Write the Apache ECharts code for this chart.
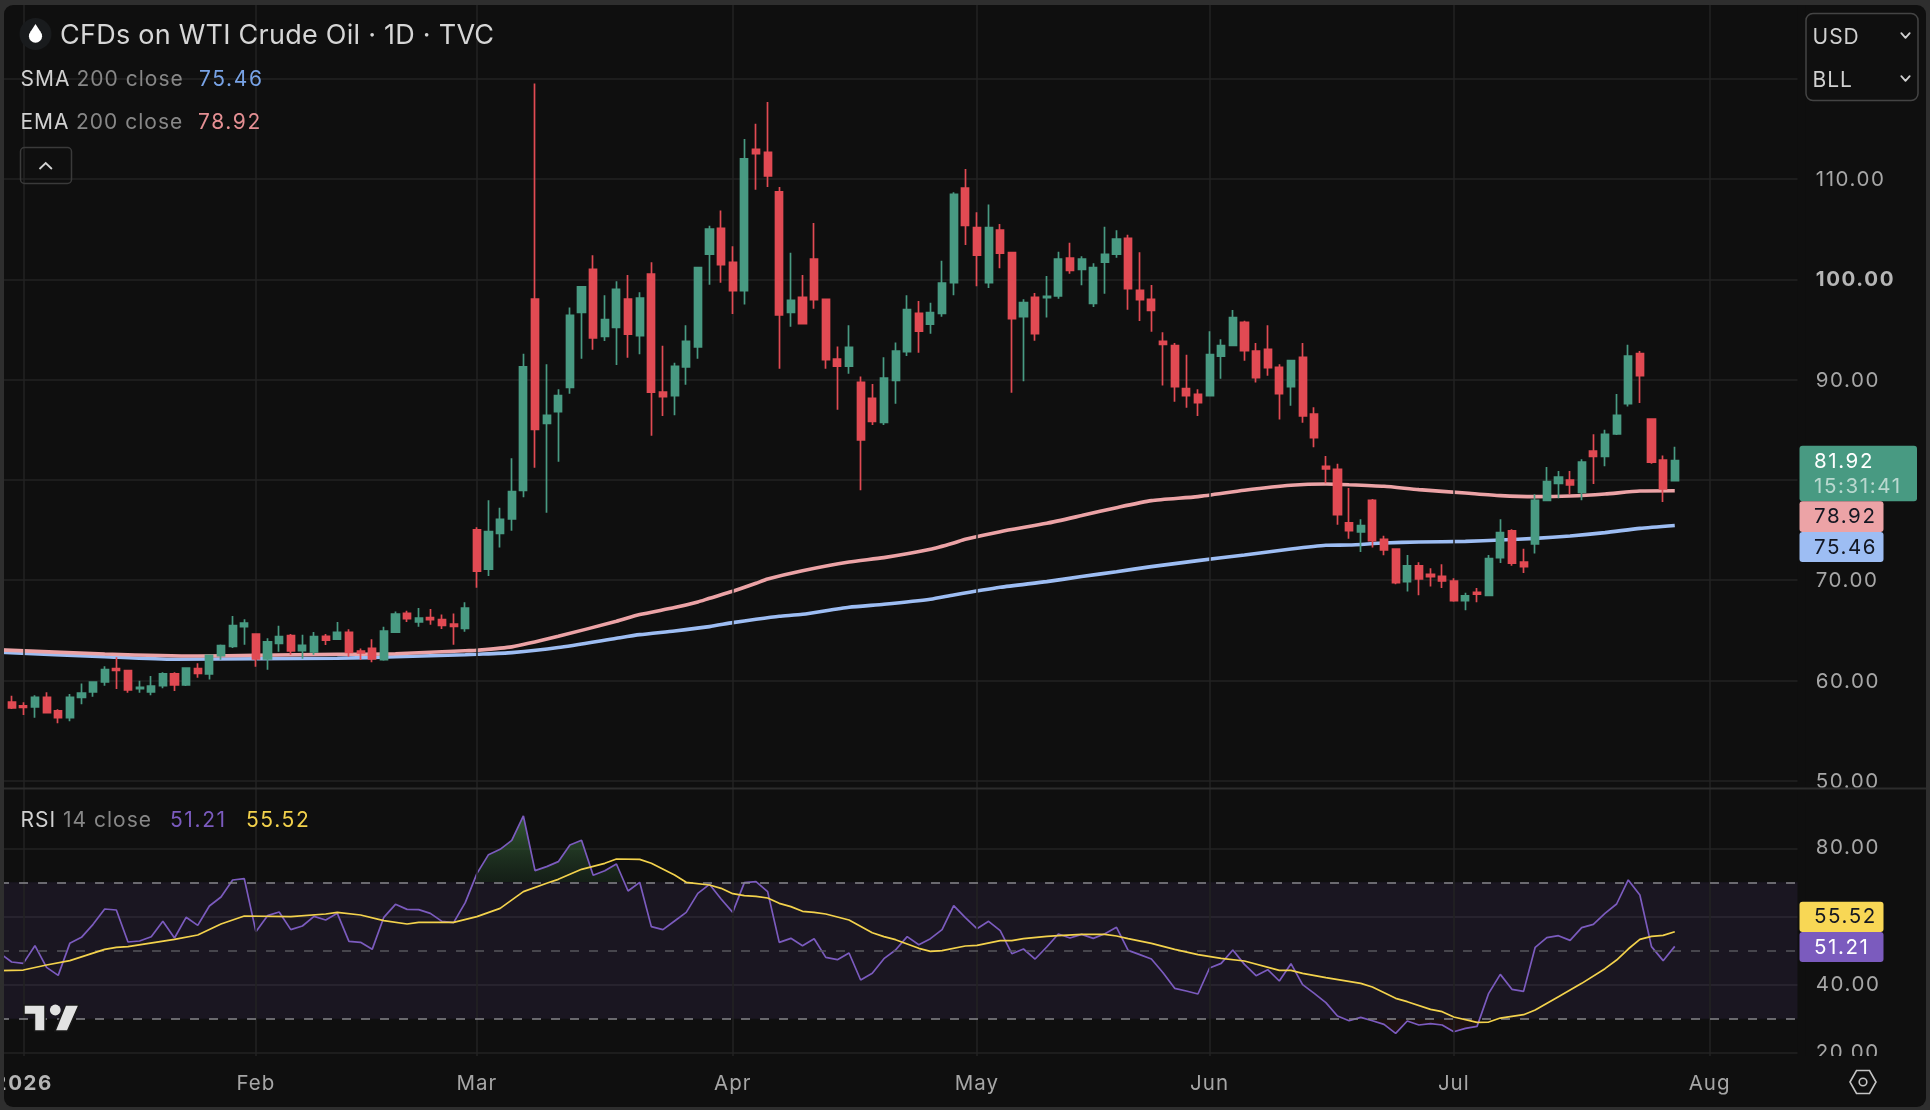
<!DOCTYPE html>
<html>
<head>
<meta charset="utf-8">
<title>CFDs on WTI Crude Oil</title>
<script src="https://cdn.jsdelivr.net/npm/echarts@6/dist/echarts.min.js"></script>
<style>
  html, body { margin: 0; padding: 0; width: 100%; height: 100%; background: #0f0f0f; overflow: hidden; }
  #chart { position: absolute; left: 0; top: 0; width: 1930px; height: 1110px; }
  #frame { position: absolute; left: 4px; top: 5px; right: 4px; bottom: 3px; border-radius: 9px;
           box-shadow: 0 0 0 30px #2e2e2e; pointer-events: none; }
</style>
</head>
<body>
<div id="chart"></div>
<div id="frame"></div>
<script>
// Daily candles, oldest first
const opens = [57.85,57.46,57.36,58.32,56.96,56.29,58.32,58.85,59.85,61.18,
  60.98,59.18,58.85,59.48,60.65,59.55,61.18,60.65,62.47,63.40,
  65.36,64.63,62.14,63.70,64.47,62.97,62.84,64.40,64.13,64.80,
  62.94,63.20,62.07,64.83,66.69,65.83,66.26,66.06,65.63,65.20,
  75.01,71.11,74.67,76.10,78.96,98.03,85.64,86.80,89.23,96.70,
  101.00,94.31,95.21,98.03,94.38,100.53,88.76,88.40,91.26,93.25,
  102.52,105.08,101.69,98.86,112.95,112.65,108.73,96.70,98.20,102.02,
  98.00,92.05,91.35,89.73,88.13,85.74,89.93,92.78,96.60,95.54,
  96.61,99.66,109.10,105.15,99.66,104.91,102.66,96.27,98.20,98.17,
  98.34,102.12,101.00,97.60,101.72,102.52,104.08,98.90,98.00,93.82,
  93.38,89.10,88.53,88.40,92.35,93.42,95.71,92.85,93.02,91.22,
  89.30,92.22,86.57,81.35,81.06,75.71,74.81,77.97,74.08,73.11,
  69.85,71.42,70.59,70.39,69.92,67.96,68.79,68.49,72.25,74.91,
  71.81,73.61,77.96,79.66,79.99,78.76,82.88,82.35,84.58,87.60,
  92.58,86.07,81.98,79.92];
const closes = [57.26,57.32,58.32,56.79,56.29,58.32,58.75,59.85,61.08,61.01,
  59.05,59.32,59.45,60.65,59.55,61.24,60.71,62.51,63.47,65.46,
  65.73,62.14,63.84,64.37,62.94,63.50,64.37,64.03,64.80,62.80,
  62.74,62.14,64.93,66.63,66.16,66.23,66.06,65.50,65.40,67.22,
  70.91,74.84,76.07,78.83,91.26,85.04,86.44,88.40,96.41,99.26,
  94.15,95.97,99.00,94.54,98.13,88.76,88.30,91.32,93.81,101.16,
  105.01,101.46,98.86,112.02,112.52,110.30,96.44,97.90,95.57,97.97,
  91.99,91.35,93.22,83.98,85.84,90.16,92.85,96.97,94.84,96.67,
  99.63,108.47,105.38,102.42,105.15,102.62,96.08,97.67,94.58,98.30,
  102.02,100.89,102.02,101.16,102.49,104.02,99.07,97.97,96.91,93.52,
  89.30,88.40,87.70,92.49,93.38,96.18,92.88,90.19,91.19,88.60,
  91.89,86.37,84.21,81.09,76.54,74.94,75.44,73.94,73.01,69.76,
  71.42,70.12,70.35,69.92,67.96,68.43,68.62,72.15,74.74,71.71,
  71.35,77.96,79.82,80.29,79.49,81.78,82.35,84.54,86.44,92.35,
  90.39,81.78,79.09,81.92];
const lows = [57.16,56.56,56.29,56.79,55.73,55.93,57.62,58.39,59.48,59.15,
  58.78,58.78,58.52,59.22,58.95,59.45,60.28,60.11,62.07,63.24,
  63.57,61.38,61.08,62.87,62.57,62.17,62.57,63.54,64.10,62.37,
  62.04,61.81,61.97,64.77,65.83,65.36,65.56,65.13,63.57,64.87,
  69.25,70.41,73.25,74.94,78.26,81.22,76.73,81.82,88.60,92.09,
  92.98,93.85,91.45,92.17,92.52,84.41,86.37,86.44,89.49,92.09,
  99.46,99.66,96.54,97.50,108.93,109.20,91.09,95.28,95.57,97.07,
  91.09,87.00,90.59,78.96,85.47,85.47,87.60,92.35,92.68,94.58,
  96.27,98.40,103.42,99.30,99.13,101.09,88.70,89.83,93.88,96.18,
  98.07,100.56,99.40,97.24,98.57,102.16,96.97,95.84,94.78,89.40,
  87.80,87.20,86.37,88.40,90.09,93.42,91.89,89.70,90.39,86.01,
  87.40,85.71,83.25,79.66,75.54,74.14,72.81,73.25,72.48,69.59,
  68.86,68.49,69.36,69.22,67.86,67.00,67.79,68.49,71.71,71.45,
  70.72,72.65,77.86,78.16,78.56,77.96,79.59,81.35,84.48,87.33,
  87.67,81.62,77.80,79.92];
const highs = [58.49,57.82,58.52,58.82,57.12,58.65,59.71,59.85,61.41,62.31,
  61.01,59.98,60.45,60.81,60.81,61.31,61.71,62.51,63.60,66.43,
  66.10,64.70,64.20,65.46,64.63,64.57,64.83,64.63,65.83,65.10,
  63.20,64.10,65.36,66.89,66.96,67.22,67.12,66.59,66.69,67.79,
  75.27,77.96,77.23,82.15,92.58,119.53,91.52,89.03,97.20,99.26,
  102.39,98.40,99.80,100.43,98.70,101.69,93.38,91.69,95.41,101.26,
  105.34,106.87,103.30,113.98,115.51,117.67,109.20,102.65,100.43,105.61,
  98.03,93.31,95.41,90.32,89.56,92.22,93.71,98.40,97.83,97.67,
  101.86,108.67,111.00,106.68,107.47,105.51,102.69,98.00,98.63,100.33,
  102.75,103.65,102.29,101.59,105.25,104.88,104.45,102.69,99.43,94.71,
  93.65,92.49,89.03,94.81,94.02,96.94,95.88,93.65,95.41,91.52,
  91.89,93.65,87.24,82.38,81.62,79.19,76.07,78.10,74.44,73.15,
  72.51,71.78,71.18,71.58,70.19,68.76,69.22,72.51,76.07,75.07,
  73.14,78.56,81.29,80.89,80.89,82.05,84.54,85.01,88.56,93.48,
  92.85,86.14,82.42,83.31];

// Moving averages as [candle number, value]; -1 is the session before the first candle
const emaPoints = [[-1,63.05],[8,62.64],[16,62.44],[21,62.51],[28,62.61],[33,62.67],[39,62.97],[40,63.01],
  [43,63.35],[47,64.41],[52,65.90],[54,66.57],[57,67.27],[59,67.83],[60,68.20],[62,68.89],[64,69.69],[65,70.12],
  [68,70.95],[72,71.82],[75,72.25],[79,73.08],[81,73.71],[82,74.08],[85,74.84],[89,75.67],[92,76.44],[95,77.23],
  [98,77.93],[102,78.33],[106,78.96],[110,79.46],[113,79.59],[115,79.52],[118,79.36],[121,79.03],[125,78.69],
  [128,78.43],[131,78.33],[134,78.39],[137,78.59],[140,78.89],[143,78.92]];
const smaPoints = [[-1,62.81],[8,62.37],[14,62.11],[21,62.17],[28,62.21],[33,62.37],[39,62.57],[40,62.61],
  [43,62.78],[47,63.28],[52,64.21],[54,64.57],[57,64.94],[60,65.37],[62,65.77],[64,66.10],[66,66.40],[68,66.60],
  [72,67.30],[75,67.60],[79,68.10],[81,68.53],[85,69.29],[89,69.86],[92,70.36],[95,70.85],[98,71.35],[102,71.95],
  [106,72.52],[110,73.11],[113,73.48],[115,73.51],[118,73.71],[121,73.81],[125,73.87],[128,74.01],[131,74.17],
  [134,74.41],[137,74.74],[140,75.17],[143,75.46]];

// RSI(14); the first value belongs to the session before the first candle
const rsiValues = [49.17,46.63,46.23,51.42,45.06,42.71,52.10,53.86,57.68,62.18,61.89,
  52.49,52.79,54.06,58.56,53.67,59.74,57.39,63.06,65.70,70.70,
  71.09,55.53,60.23,61.30,56.12,57.19,60.03,58.95,60.91,52.69,
  52.40,50.34,59.74,63.55,62.08,61.99,60.91,58.56,58.17,64.04,
  72.55,78.13,79.70,82.34,89.48,73.43,74.61,76.08,80.97,82.34,
  72.07,73.43,75.39,67.47,70.01,57.00,56.12,58.66,61.20,66.78,
  69.42,65.12,61.20,69.91,70.21,67.27,52.40,53.57,51.42,53.47,
  47.99,47.31,49.27,41.34,43.30,47.60,50.15,54.06,51.71,53.47,
  56.12,63.16,59.64,56.41,58.56,55.82,49.07,50.44,47.50,51.03,
  54.84,53.67,54.75,53.57,54.94,56.80,50.05,48.78,47.50,43.49,
  38.89,38.11,37.23,44.86,46.23,50.15,45.94,42.61,44.37,41.05,
  46.14,39.97,37.43,34.69,30.77,29.40,30.38,29.40,28.33,25.69,
  29.30,28.13,28.52,28.13,26.17,27.15,27.74,37.43,43.00,38.60,
  38.01,50.93,53.77,54.35,52.98,56.70,57.68,60.91,63.65,70.70,
  66.29,51.13,47.02,51.21];
const rsiMaPoints = [[-1,44.08],[1,44.27],[3,45.74],[5,47.02],[8,50.34],[9,50.93],[10,51.13],[14,53.28],[16,54.55],
  [18,57.78],[20,60.13],[24,59.93],[27,60.71],[28,61.20],[30,60.42],[32,58.76],[34,57.78],[35,58.27],[38,58.27],
  [40,59.93],[42,62.38],[44,67.27],[46,69.72],[47,70.89],[49,73.83],[51,75.59],[52,76.86],[54,76.76],[55,75.59],
  [57,72.16],[58,70.01],[60,69.23],[61,68.25],[62,66.68],[63,66.10],[64,65.90],[65,65.41],[66,63.85],[67,62.87],
  [68,61.50],[69,61.20],[70,60.71],[72,58.95],[74,55.23],[75,54.06],[76,53.18],[78,50.64],[79,49.76],[80,49.95],
  [82,51.32],[83,51.52],[85,52.89],[86,52.89],[87,53.47],[89,54.16],[90,54.35],[92,54.75],[94,54.75],[95,54.26],
  [96,53.47],[98,52.10],[100,50.34],[102,48.78],[104,47.70],[106,46.92],[109,44.18],[110,44.18],[111,43.30],
  [113,42.03],[116,40.36],[117,39.28],[119,35.96],[120,34.98],[122,32.73],[123,32.05],[124,30.48],[126,28.91],
  [127,29.01],[128,30.18],[130,31.16],[131,32.53],[133,36.45],[135,40.36],[137,44.67],[138,47.21],[139,50.44],
  [140,53.28],[141,54.16],[142,54.45],[143,55.52]];

// Axis tick labels
const priceTicks = [50, 60, 70, 80, 90, 100, 110];
const priceGridValues = [50, 60, 70, 80, 90, 100, 110, 120];
const rsiTicks = [20, 40, 60, 80];
const monthLabels = { 2: '2026', 22: 'Feb', 41: 'Mar', 63: 'Apr', 84: 'May', 104: 'Jun', 125: 'Jul', 147: 'Aug' };
const slotCount = 156;

// Latest readings shown in the legends and axis tags
const lastClose = 81.92, lastEma = 78.92, lastSma = 75.46, lastRsi = 51.21, lastRsiMa = 55.52;
const countdown = '15:31:41';

const FONT = 'Inter';
const GREEN = '#489a82', RED = '#e14a53';
const EMA_COLOR = '#eca3a6', SMA_COLOR = '#9dbdf3';
const RSI_COLOR = '#7b5bbe', RSI_MA_COLOR = '#f3d24c';
const GRID_LINE = '#232323';
const SLOT_WIDTH = 11.63;

// Give numerals and small text the looser tracking of the chart's UI font
(function () {
  const proto = CanvasRenderingContext2D.prototype;
  const fillText = proto.fillText;
  proto.fillText = function (text, x, y, maxWidth) {
    const numeric = /^[\d.:]+$/.test(text);
    const small = parseFloat(this.font.match(/([\d.]+)px/)[1]) < 25;
    this.letterSpacing = numeric ? '1.6px' : (small ? '1px' : '0.25px');
    return maxWidth === undefined ? fillText.call(this, text, x, y) : fillText.call(this, text, x, y, maxWidth);
  };
})();

const categories = Array.from({ length: slotCount }, (_, i) => 'd' + i);
const candleData = [['-', '-', '-', '-']].concat(opens.map((o, i) => [o, closes[i], lows[i], highs[i]]));
const toSlots = pts => pts.map(([n, v]) => [n + 1, v]);
const monthSlots = Object.keys(monthLabels).map(Number);
const monthLines = monthSlots.map(s => ({ xAxis: categories[s] }));

const hLine = (value, color) => ({
  yAxis: value,
  lineStyle: { color, type: [9, 10], width: 1.5 }
});

const chart = echarts.init(document.getElementById('chart'), null, { renderer: 'canvas' });

const label = (x, y, text, color, size, extra) => ({
  type: 'text', z: 70, silent: true,
  style: Object.assign({ x, y, text, fill: color, fontFamily: FONT, fontSize: size,
    verticalAlign: 'middle', align: 'left' }, extra || {})
});
const box = (x, y, w, h, fill, r) => ({
  type: 'rect', z: 65, silent: true,
  shape: { x, y, width: w, height: h, r: r || 0 }, style: { fill }
});
const chevron = (cx, cy, hw, hh, color) => ({
  type: 'polyline', z: 70, silent: true,
  shape: { points: [[cx - hw, cy - hh], [cx, cy + hh], [cx + hw, cy - hh]] },
  style: { stroke: color, lineWidth: 1.8, fill: null, lineCap: 'round', lineJoin: 'round' }
});

const overlays = [
  // trim the panes to the price scale and clip the axis labels that run past them
  box(1797.5, 0, 8, 1056, '#0f0f0f'),
  box(1798, 788, 132, 14, '#0f0f0f'),
  box(1798, 1056, 132, 22, '#0f0f0f'),
  box(0, 787.4, 1930, 2, '#2c2c2c'),

  // symbol header
  { type: 'circle', z: 65, silent: true, shape: { cx: 35.5, cy: 34, r: 16 }, style: { fill: '#191b1d' } },
  { type: 'circle', z: 70, silent: true, shape: { cx: 35.5, cy: 36.2, r: 6.6 }, style: { fill: '#ffffff' } },
  { type: 'polygon', z: 70, silent: true, shape: { points: [[35.5, 24], [41, 32.6], [30, 32.6]] }, style: { fill: '#ffffff' } },
  label(60, 35.7, 'CFDs on WTI Crude Oil \u00b7 1D \u00b7 TVC', '#d6d6d6', 27),

  label(20.5, 79.2, 'SMA', '#d1d1d1', 21),
  label(76.5, 79.2, '200 close', '#878787', 21),
  label(199, 79.2, lastSma.toFixed(2), '#78a3e6', 21),
  label(20.5, 122.2, 'EMA', '#d1d1d1', 21),
  label(76, 122.2, '200 close', '#878787', 21),
  label(198, 122.2, lastEma.toFixed(2), '#e48f93', 21),

  // collapse button
  { type: 'rect', z: 65, silent: true, shape: { x: 20.5, y: 147.5, width: 51, height: 36, r: 4 },
    style: { fill: 'none', stroke: '#3a3a3a', lineWidth: 1.5 } },
  { type: 'polyline', z: 70, silent: true, shape: { points: [[39.5, 169], [45.7, 163], [51.9, 169]] },
    style: { stroke: '#d4d4d4', lineWidth: 1.8, fill: null } },

  // currency and unit selectors
  { type: 'rect', z: 65, silent: true, shape: { x: 1806, y: 13.5, width: 112, height: 87, r: 7 },
    style: { fill: '#0f0f0f', stroke: '#444444', lineWidth: 1.5 } },
  label(1812.5, 37.3, 'USD', '#d0d0d0', 21),
  label(1812.5, 80.3, 'BLL', '#d0d0d0', 21),
  chevron(1905.5, 35.5, 4.2, 2.4, '#d0d0d0'),
  chevron(1905.5, 78.5, 4.2, 2.4, '#d0d0d0'),

  // price axis tags
  box(1799.5, 445.7, 117.5, 55.5, GREEN, 3),
  label(1814, 462, lastClose.toFixed(2), '#ffffff', 20.5),
  label(1814, 487, countdown, 'rgba(255,255,255,0.62)', 20.5),
  box(1799.5, 501.2, 84, 30.8, EMA_COLOR, 3),
  label(1814, 517.2, lastEma.toFixed(2), '#131722', 20.5),
  box(1799.5, 532, 84, 30, SMA_COLOR, 3),
  label(1814, 547.7, lastSma.toFixed(2), '#131722', 20.5),

  // RSI legend and tags
  label(20.5, 820.8, 'RSI', '#d1d1d1', 21),
  label(63, 820.8, '14 close', '#878787', 21),
  label(170, 820.8, lastRsi.toFixed(2), RSI_COLOR, 21),
  label(246, 820.8, lastRsiMa.toFixed(2), RSI_MA_COLOR, 21),
  box(1799.5, 901.7, 84, 30.3, '#f8d755', 3),
  label(1814, 917.3, lastRsiMa.toFixed(2), '#131722', 20.5),
  box(1799.5, 932, 84, 30, RSI_COLOR, 3),
  label(1814, 948, lastRsi.toFixed(2), '#ffffff', 20.5),

  // TradingView mark
  { type: 'polygon', z: 70, silent: true,
    shape: { points: [[24, 1005], [45, 1005], [45, 1031], [34.5, 1031], [34.5, 1014.5], [24, 1014.5]] },
    style: { fill: '#e2e2e2', stroke: '#191919', lineWidth: 1.5 } },
  { type: 'circle', z: 70, silent: true, shape: { cx: 55.3, cy: 1010, r: 5.4 }, style: { fill: '#e2e2e2' } },
  { type: 'polygon', z: 70, silent: true,
    shape: { points: [[65.5, 1005], [79, 1005], [67.5, 1031], [55, 1031]] },
    style: { fill: '#e2e2e2', stroke: '#191919', lineWidth: 1.5 } },

  // chart settings
  { type: 'polygon', z: 70, silent: true,
    shape: { points: [[1850, 1082], [1856.5, 1070.5], [1869.5, 1070.5], [1876, 1082], [1869.5, 1093.5], [1856.5, 1093.5]] },
    style: { fill: 'none', stroke: '#c4c4c4', lineWidth: 1.6 } },
  { type: 'circle', z: 70, silent: true, shape: { cx: 1863, cy: 1082, r: 3.8 },
    style: { fill: 'none', stroke: '#c4c4c4', lineWidth: 1.6 } }
];

const axisLabelBase = { color: '#a6a6a6', fontFamily: FONT, fontSize: 20.5 };

chart.setOption({
  animation: false,
  backgroundColor: '#0f0f0f',
  textStyle: { fontFamily: FONT },
  tooltip: { show: false },
  axisPointer: { show: false },
  grid: [
    { left: 0.04, top: 5, width: (slotCount - 1) * SLOT_WIDTH, height: 783, outerBoundsMode: 'none' },
    { left: 0.04, top: 789, width: (slotCount - 1) * SLOT_WIDTH, height: 267, outerBoundsMode: 'none' }
  ],
  xAxis: [
    { type: 'category', gridIndex: 0, data: categories, boundaryGap: false,
      axisLine: { show: false }, axisTick: { show: false }, axisLabel: { show: false }, splitLine: { show: false } },
    { type: 'category', gridIndex: 1, data: categories, boundaryGap: false,
      axisLine: { show: false }, axisTick: { show: false }, splitLine: { show: false },
      axisLabel: Object.assign({}, axisLabelBase, {
        margin: 17,
        interval: i => monthLabels[i] !== undefined,
        formatter: (v, i) => monthLabels[i] === '2026' ? '{year|2026}' : (monthLabels[i] || ''),
        rich: { year: { color: '#b5b5b5', fontFamily: FONT, fontSize: 20.5, fontWeight: 700 } }
      }) }
  ],
  yAxis: [
    { type: 'value', gridIndex: 0, position: 'right', min: 49.28, max: 127.35,
      axisLine: { show: false }, axisTick: { show: false, customValues: priceGridValues },
      splitLine: { show: true, lineStyle: { color: GRID_LINE, width: 1.5 } },
      axisLabel: Object.assign({}, axisLabelBase, {
        margin: 13, padding: [2, 0, 0, 0], customValues: priceTicks,
        formatter: v => v === 100 ? '{strong|100.00}' : v.toFixed(2),
        rich: { strong: { color: '#b5b5b5', fontFamily: FONT, fontSize: 20.5, fontWeight: 700 } }
      }) },
    { type: 'value', gridIndex: 1, position: 'right', min: 19.04, max: 97.4,
      axisLine: { show: false }, axisTick: { show: false, customValues: rsiTicks },
      splitLine: { show: true, lineStyle: { color: GRID_LINE, width: 1.5 } },
      axisLabel: Object.assign({}, axisLabelBase, {
        margin: 13, padding: [4, 0, 0, 0], customValues: rsiTicks, formatter: v => v.toFixed(2)
      }) }
  ],
  series: [
    // month gridlines in both panes
    { type: 'line', xAxisIndex: 0, yAxisIndex: 0, data: [], z: 1, silent: true,
      markLine: { silent: true, symbol: 'none', animation: false, label: { show: false },
        lineStyle: { color: GRID_LINE, width: 1.5, type: 'solid' }, data: monthLines } },
    { type: 'line', xAxisIndex: 1, yAxisIndex: 1, data: [], z: 1, silent: true,
      markLine: { silent: true, symbol: 'none', animation: false, label: { show: false },
        lineStyle: { color: GRID_LINE, width: 1.5, type: 'solid' }, data: monthLines } },

    { name: 'SMA 200', type: 'line', xAxisIndex: 0, yAxisIndex: 0, data: toSlots(smaPoints), z: 3,
      smooth: 0.2, showSymbol: false, symbol: 'none', lineStyle: { color: SMA_COLOR, width: 3.6 } },
    { name: 'EMA 200', type: 'line', xAxisIndex: 0, yAxisIndex: 0, data: toSlots(emaPoints), z: 4,
      smooth: 0.2, showSymbol: false, symbol: 'none', lineStyle: { color: EMA_COLOR, width: 3.6 } },

    { name: 'CFDs on WTI Crude Oil', type: 'candlestick', xAxisIndex: 0, yAxisIndex: 0, z: 5,
      data: candleData, barWidth: 7.6,
      itemStyle: { color: GREEN, color0: RED, borderColor: GREEN, borderColor0: RED, borderWidth: 1.7 } },

    { name: 'RSI', type: 'line', xAxisIndex: 1, yAxisIndex: 1, data: rsiValues, z: 4,
      showSymbol: false, symbol: 'none', lineStyle: { color: RSI_COLOR, width: 1.7 },
      areaStyle: {
        origin: 70,
        color: new echarts.graphic.LinearGradient(0, 814, 0, 1053, [
          { offset: 0, color: 'rgba(72,132,72,0.95)' },
          { offset: 0.2855, color: 'rgba(36,72,44,0.38)' },
          { offset: 0.2856, color: 'rgba(0,0,0,0)' },
          { offset: 0.8566, color: 'rgba(0,0,0,0)' },
          { offset: 0.8567, color: 'rgba(110,30,30,0.18)' },
          { offset: 1, color: 'rgba(110,30,30,0.35)' }
        ], true)
      },
      markArea: { silent: true, itemStyle: { color: 'rgba(126,87,194,0.10)' },
        data: [[{ yAxis: 70 }, { yAxis: 30 }]] },
      markLine: { silent: true, symbol: 'none', animation: false, label: { show: false },
        data: [hLine(70, '#86868b'), hLine(50, '#57575c'), hLine(30, '#86868b')] } },
    { name: 'RSI MA', type: 'line', xAxisIndex: 1, yAxisIndex: 1, data: toSlots(rsiMaPoints), z: 5,
      showSymbol: false, symbol: 'none', lineStyle: { color: RSI_MA_COLOR, width: 1.7 } }
  ],
  graphic: overlays
});
</script>
</body>
</html>
